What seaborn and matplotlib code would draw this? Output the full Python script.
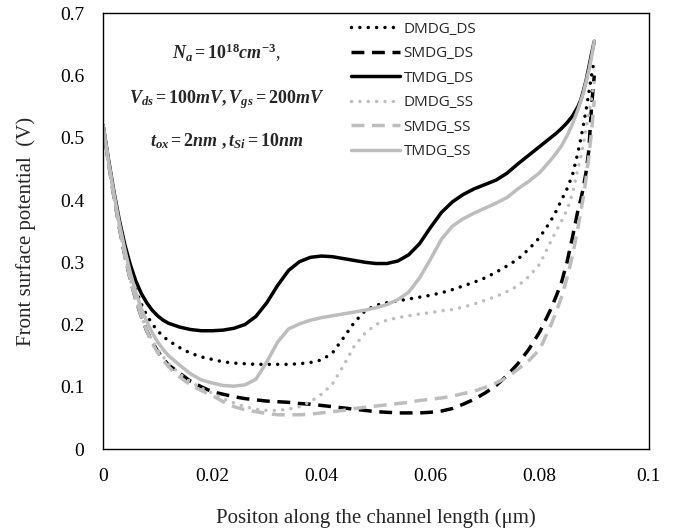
import numpy as np
import pandas as pd
import matplotlib
matplotlib.use("Agg")
import matplotlib.pyplot as plt
import seaborn as sns
from matplotlib.ticker import FuncFormatter, MultipleLocator

# position along the channel (um)
x_pos = [0, .001, .002, .003, .004, .005, .006, .007, .008, .009, .01, .011, .012, .014,
         .016, .018, .02, .022, .024, .026, .028, .03, .032, .034, .036, .038, .04, .042,
         .044, .046, .048, .05, .052, .054, .056, .058, .06, .062, .064, .066, .068, .07,
         .072, .074, .076, .078, .08, .082, .083, .084, .085, .086, .087, .0875, .088,
         .0885, .089, .0895, .09]

dmdg_ds = [0.52, 0.463, 0.41, 0.362, 0.32, 0.285, 0.256, 0.233, 0.215, 0.201, 0.19, 0.181,
           0.174, 0.163, 0.154, 0.148, 0.144, 0.14, 0.138, 0.137, 0.136, 0.136, 0.136, 0.136,
           0.137, 0.139, 0.143, 0.154, 0.178, 0.203, 0.222, 0.231, 0.235, 0.238, 0.241,
           0.244, 0.247, 0.251, 0.256, 0.262, 0.268, 0.275, 0.284, 0.294, 0.305, 0.321,
           0.34, 0.366, 0.382, 0.4, 0.418, 0.44, 0.476, 0.497, 0.52, 0.545, 0.572, 0.6, 0.625]
smdg_ds = [0.52, 0.46, 0.405, 0.355, 0.31, 0.272, 0.24, 0.213, 0.19, 0.172, 0.157, 0.145,
           0.135, 0.122, 0.109, 0.1, 0.092, 0.088, 0.084, 0.081, 0.079, 0.077, 0.076, 0.075,
           0.073, 0.072, 0.07, 0.068, 0.066, 0.064, 0.062, 0.06, 0.059, 0.058, 0.058, 0.058,
           0.059, 0.061, 0.065, 0.072, 0.08, 0.09, 0.102, 0.118, 0.137, 0.16, 0.188, 0.224,
           0.245, 0.268, 0.3, 0.34, 0.383, 0.4, 0.42, 0.445, 0.48, 0.55, 0.6]
tmdg_ds = [0.52, 0.465, 0.413, 0.367, 0.328, 0.296, 0.27, 0.25, 0.235, 0.223, 0.214, 0.207,
           0.202, 0.196, 0.192, 0.19, 0.19, 0.191, 0.194, 0.2, 0.213, 0.235, 0.263, 0.287,
           0.301, 0.308, 0.31, 0.309, 0.306, 0.303, 0.3, 0.298, 0.298, 0.302, 0.312, 0.33,
           0.356, 0.38, 0.397, 0.409, 0.418, 0.425, 0.432, 0.443, 0.458, 0.472, 0.486, 0.5,
           0.507, 0.515, 0.524, 0.535, 0.55, 0.56, 0.575, 0.592, 0.613, 0.635, 0.655]
dmdg_ss = [0.52, 0.46, 0.405, 0.355, 0.31, 0.272, 0.24, 0.213, 0.192, 0.174, 0.16, 0.148,
           0.138, 0.121, 0.108, 0.098, 0.09, 0.081, 0.074, 0.068, 0.064, 0.062, 0.062, 0.064,
           0.068, 0.076, 0.088, 0.104, 0.133, 0.165, 0.186, 0.2, 0.207, 0.211, 0.214, 0.217,
           0.219, 0.222, 0.224, 0.228, 0.233, 0.239, 0.245, 0.253, 0.262, 0.277, 0.297,
           0.333, 0.35, 0.366, 0.384, 0.41, 0.45, 0.468, 0.49, 0.515, 0.54, 0.563, 0.59]
smdg_ss = [0.52, 0.46, 0.405, 0.355, 0.31, 0.272, 0.24, 0.213, 0.19, 0.17, 0.155, 0.143,
           0.132, 0.116, 0.103, 0.094, 0.086, 0.076, 0.068, 0.063, 0.06, 0.057, 0.055, 0.055,
           0.055, 0.056, 0.058, 0.06, 0.062, 0.065, 0.067, 0.069, 0.071, 0.073, 0.075, 0.078,
           0.08, 0.082, 0.085, 0.089, 0.093, 0.099, 0.106, 0.115, 0.128, 0.142, 0.16, 0.198,
           0.22, 0.244, 0.275, 0.31, 0.355, 0.38, 0.405, 0.435, 0.47, 0.51, 0.56]
tmdg_ss = [0.52, 0.462, 0.41, 0.362, 0.32, 0.283, 0.252, 0.226, 0.205, 0.187, 0.172, 0.16,
           0.15, 0.135, 0.121, 0.111, 0.106, 0.102, 0.101, 0.103, 0.112, 0.14, 0.172, 0.193,
           0.201, 0.207, 0.211, 0.214, 0.217, 0.22, 0.223, 0.227, 0.232, 0.24, 0.252, 0.275,
           0.305, 0.337, 0.358, 0.37, 0.379, 0.387, 0.395, 0.404, 0.418, 0.43, 0.444, 0.464,
           0.475, 0.487, 0.503, 0.522, 0.545, 0.558, 0.572, 0.59, 0.608, 0.63, 0.655]

series_names = ["DMDG_DS", "SMDG_DS", "TMDG_DS", "DMDG_SS", "SMDG_SS", "TMDG_SS"]
series_vals = [dmdg_ds, smdg_ds, tmdg_ds, dmdg_ss, smdg_ss, tmdg_ss]

BLACK = "#000000"
GRAY = "#bdbdbd"
DOT = (0, (0.01, 2.4))
DASH = (0, (3.7, 2.2))
styles = {
    "DMDG_DS": (BLACK, DOT, "round"),
    "SMDG_DS": (BLACK, DASH, "butt"),
    "TMDG_DS": (BLACK, "-", "butt"),
    "DMDG_SS": (GRAY, DOT, "round"),
    "SMDG_SS": (GRAY, DASH, "butt"),
    "TMDG_SS": (GRAY, "-", "butt"),
}

df = pd.concat(
    [pd.DataFrame({"x": x_pos, "y": v, "series": n}) for n, v in zip(series_names, series_vals)],
    ignore_index=True,
)

sns.set_style("white")
plt.rcParams["font.family"] = ["Liberation Serif", "DejaVu Serif"]
plt.rcParams["mathtext.fontset"] = "custom"
plt.rcParams["mathtext.rm"] = "Liberation Serif:bold"
plt.rcParams["mathtext.it"] = "Liberation Serif:italic:bold"
plt.rcParams["mathtext.bf"] = "Liberation Serif:bold"

fig = plt.figure(figsize=(6.78, 5.32), dpi=100)
ax = fig.add_axes([0.152, 0.156, 0.805, 0.819])

for name in series_names:
    color, ls, cap = styles[name]
    sns.lineplot(
        data=df[df["series"] == name], x="x", y="y", ax=ax,
        color=color, linewidth=2.5, linestyle=ls, label=name, sort=False,
    )
    line = ax.get_lines()[-1]
    line.set_dash_capstyle(cap)
    line.set_solid_joinstyle("round")

ax.set_xlim(0, 0.1)
ax.set_ylim(0, 0.7)
ax.xaxis.set_major_locator(MultipleLocator(0.02))
ax.yaxis.set_major_locator(MultipleLocator(0.1))
fmt = FuncFormatter(lambda v, p: f"{v:.2f}".rstrip("0").rstrip(".") if v else "0")
ax.xaxis.set_major_formatter(fmt)
ax.yaxis.set_major_formatter(fmt)
ax.tick_params(axis="both", direction="inout", length=9, width=1, colors="black",
               labelsize=14, pad=9)
for s in ax.spines.values():
    s.set_visible(True)
    s.set_color("black")
    s.set_linewidth(1.0)

ax.set_xlabel("Positon along the channel length (\u03bcm)", fontsize=15, labelpad=17)
ax.set_ylabel("Front surface potential  (V)", fontsize=15, labelpad=17)

ax.text(0.227, 0.909, r"$N_a = 10^{18}cm^{-3}$,", transform=ax.transAxes,
        ha="center", va="center", fontsize=13)
ax.text(0.227, 0.801, r"$V_{ds} = 100mV, V_{gs} = 200mV$", transform=ax.transAxes,
        ha="center", va="center", fontsize=13)
ax.text(0.227, 0.707, r"$t_{ox} = 2nm\ , t_{Si} = 10nm$", transform=ax.transAxes,
        ha="center", va="center", fontsize=13)

leg = ax.legend(loc="upper left", bbox_to_anchor=(0.43, 1.012), frameon=False,
                handlelength=3.2, handletextpad=0.2, labelspacing=0.62,
                prop={"family": "Open Sans", "size": 11})

fig.savefig("out.png", dpi=100)
